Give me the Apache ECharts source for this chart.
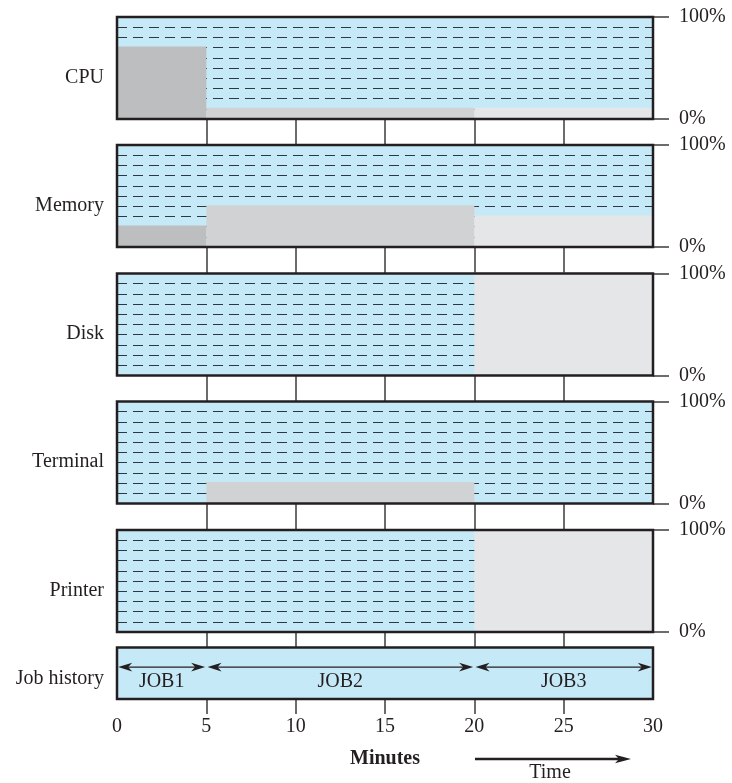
<!DOCTYPE html>
<html><head><meta charset="utf-8">
<script src="https://cdn.jsdelivr.net/npm/echarts@6/dist/echarts.min.js"></script>
<style>html,body{margin:0;padding:0;background:#fff}#c{width:732px;height:783px}</style>
</head><body><div id="c"></div>
<script>
// ---- data ----
const resources = ['CPU', 'Memory', 'Disk', 'Terminal', 'Printer'];
const jobNames = ['JOB1', 'JOB2', 'JOB3'];
const jobStart = [0, 5, 20];
const jobEnd = [5, 20, 30];
const cpuUse = [70, 10, 10];
const memoryUse = [20, 40, 30];
const diskUse = [0, 0, 100];
const terminalUse = [0, 20, 0];
const printerUse = [0, 0, 100];
const innerTickMinutes = [5, 10, 15, 20, 25];
const usage = [cpuUse, memoryUse, diskUse, terminalUse, printerUse];

// ---- style / layout ----
const FONT = '"Liberation Serif", "Times New Roman", serif';
const INK = '#231f20';
const BLUE = '#c6e9f8';
const JOB_COLORS = ['#bdbec0', '#d1d2d4', '#e5e6e7'];
const LEFT = 117, WIDTH = 536;
const panelTops = [17, 145, 273.5, 401.5, 530];
const PANEL_H = 102;
const JOB_TOP = 647.5, JOB_H = 51.5;
const tickLens = [26, 26.5, 26, 26.5, 15.5, 15];

const grids = [], overlay = [], xAxes = [], yAxes = [], series = [];
const allTops = panelTops.concat([JOB_TOP]);
const allH = panelTops.map(() => PANEL_H).concat([JOB_H]);
allTops.forEach((t, i) => {
  grids.push({left: LEFT, top: t, width: WIDTH, height: allH[i], show: true,
    backgroundColor: BLUE, borderWidth: 0, z: 0, containLabel: false, outerBoundsMode: 'none'});
  overlay.push({left: LEFT, top: t, width: WIDTH, height: allH[i], show: true,
    backgroundColor: 'transparent', borderColor: INK, borderWidth: 2.5, z: 10, containLabel: false, outerBoundsMode: 'none'});
  const isJob = i === 5;
  xAxes.push({
    gridIndex: i, type: 'value', min: 0, max: 30, interval: 5, position: 'bottom',
    axisLine: {show: false}, splitLine: {show: false},
    axisTick: {show: true, customValues: innerTickMinutes, length: tickLens[i],
      lineStyle: {color: '#3d3d3d', width: 1.5}},
    axisLabel: {show: isJob, margin: 18, color: INK, fontFamily: FONT, fontSize: 20},
    name: isJob ? 'Minutes' : '', nameLocation: 'middle', nameGap: 50,
    nameTextStyle: {color: INK, fontFamily: FONT, fontSize: 20, fontWeight: 'bold'}
  });
});

resources.forEach((r, i) => {
  // split-line axis (also carries the panel name)
  yAxes.push({
    gridIndex: i, type: 'value', min: 0, max: 100, interval: 10, position: 'left',
    axisLine: {show: false}, axisTick: {show: false}, axisLabel: {show: false},
    splitLine: {show: true, lineStyle: {type: [10, 6], color: '#2e3840', width: 1.2}},
    name: r, nameLocation: 'middle', nameRotate: 0, nameGap: 13,
    nameTextStyle: {color: INK, fontFamily: FONT, fontSize: 20, verticalAlign: 'top', lineHeight: 19}
  });
  // right percentage axis
  yAxes.push({
    gridIndex: i, type: 'value', min: 0, max: 100, interval: 100, position: 'right',
    axisLine: {show: false}, splitLine: {show: false},
    axisTick: {show: true, length: 16, lineStyle: {color: '#3d3d3d', width: 1.5}},
    axisLabel: {show: true, margin: 26, color: INK, fontFamily: FONT, fontSize: 20,
      formatter: v => v + '%'}
  });
  series.push({
    type: 'custom', xAxisIndex: i, yAxisIndex: 2 * i,
    data: jobStart.map((s, j) => [s, jobEnd[j], usage[i][j], j]),
    encode: {x: [0, 1], y: 2},
    renderItem: (params, api) => {
      const v = api.value(2);
      if (!(v > 0)) return null;
      const p0 = api.coord([api.value(0), v]);
      const p1 = api.coord([api.value(1), 0]);
      return {type: 'rect',
        shape: {x: p0[0], y: p0[1] - 1, width: p1[0] - p0[0], height: p1[1] - p0[1] + 1},
        style: {fill: JOB_COLORS[api.value(3)]}};
    }
  });
});

// job history axis
yAxes.push({
  gridIndex: 5, type: 'value', min: 0, max: 100, position: 'left',
  axisLine: {show: false}, axisTick: {show: false}, axisLabel: {show: false}, splitLine: {show: false},
  name: 'Job history', nameLocation: 'middle', nameRotate: 0, nameGap: 13,
  nameTextStyle: {color: INK, fontFamily: FONT, fontSize: 20, verticalAlign: 'top', lineHeight: 10}
});
series.push({
  type: 'custom', xAxisIndex: 5, yAxisIndex: yAxes.length - 1,
  data: jobStart.map((s, j) => [s, jobEnd[j], j]),
  encode: {x: [0, 1]},
  renderItem: (params, api) => {
    const s = api.value(0), e = api.value(1), j = api.value(2);
    const a = api.coord([s, 62]), b = api.coord([e, 62]);
    const m = api.coord([(s + e) / 2, 33]);
    const x0 = a[0] + 1.2, x1 = b[0] - 1.2, y = a[1];
    return {type: 'group', children: [
      {type: 'line', shape: {x1: x0 + 8, y1: y, x2: x1 - 8, y2: y}, style: {stroke: INK, lineWidth: 1.3}},
      {type: 'polygon', shape: {points: [[x0, y], [x0 + 14, y - 4.4], [x0 + 10, y], [x0 + 14, y + 4.4]]}, style: {fill: INK}},
      {type: 'polygon', shape: {points: [[x1, y], [x1 - 14, y - 4.4], [x1 - 10, y], [x1 - 14, y + 4.4]]}, style: {fill: INK}},
      {type: 'text', x: m[0], y: m[1], style: {text: jobNames[j], fill: INK,
        font: '20px ' + FONT, align: 'center', verticalAlign: 'middle'}}
    ]};
  }
});

const chart = echarts.init(document.getElementById('c'), null, {renderer: 'canvas'});
chart.setOption({
  animation: false,
  backgroundColor: '#ffffff',
  grid: grids.concat(overlay),
  xAxis: xAxes,
  yAxis: yAxes,
  series: series,
  graphic: [
    {type: 'line', shape: {x1: 475, y1: 759, x2: 620, y2: 759}, style: {stroke: INK, lineWidth: 2.4}},
    {type: 'polygon', shape: {points: [[631, 759], [615, 754.8], [619, 759], [615, 763.2]]}, style: {fill: INK}},
    {type: 'text', x: 550, y: 773, style: {text: 'Time', fill: INK, font: '20px ' + FONT,
      align: 'center', verticalAlign: 'middle'}}
  ]
});
</script></body></html>
